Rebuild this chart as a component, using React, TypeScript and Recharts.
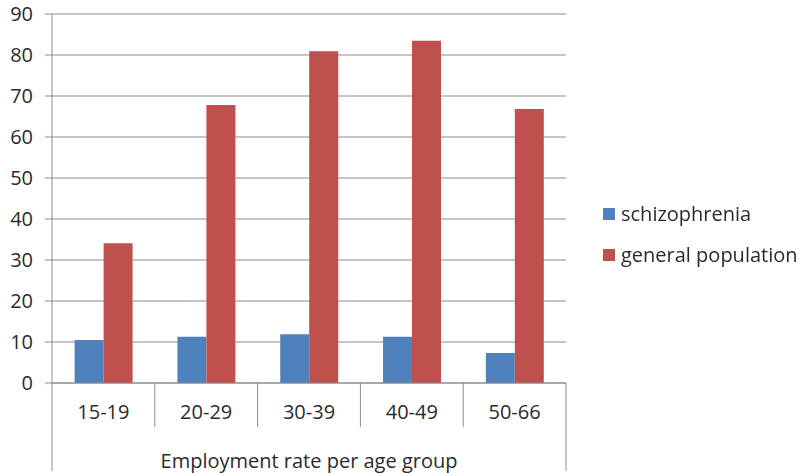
import { Bar, BarChart, CartesianGrid, Legend, XAxis, YAxis } from "recharts";

const ageGroups = ["15-19", "20-29", "30-39", "40-49", "50-66"];
const schizophrenia = [10.5, 11.3, 11.9, 11.3, 7.3];
const generalPopulation = [34.1, 67.8, 80.9, 83.5, 66.8];
const yTicks = [0, 10, 20, 30, 40, 50, 60, 70, 80, 90];

const data = ageGroups.map((g, i) => ({
  group: g,
  schizophrenia: schizophrenia[i],
  general: generalPopulation[i],
}));

const BLUE = "#4F81BD";
const RED = "#C0504D";
const GRID = "#8c8c8c";
const TEXT = "#2b2b2b";
const FONT = "'Open Sans', sans-serif";
const FS = 20;

const PLOT_L = 52;
const PLOT_R = 566;
const BAND = (PLOT_R - PLOT_L) / ageGroups.length;

function GroupTick(props: any) {
  const { x, y, payload, index } = props;
  const last = index === ageGroups.length - 1;
  return (
    <g>
      {index === 0 && <line x1={x - BAND / 2} y1={y} x2={x - BAND / 2} y2={y + 88} stroke={GRID} />}
      <line x1={x + BAND / 2} y1={y} x2={x + BAND / 2} y2={y + (last ? 88 : 44)} stroke={GRID} />
      <text x={x} y={y + 29} dy="0.35em" textAnchor="middle" fill={TEXT} fontSize={FS} fontFamily={FONT}>
        {payload.value}
      </text>
    </g>
  );
}

function LegendBox() {
  const items = [
    { name: "schizophrenia", color: BLUE },
    { name: "general population", color: RED },
  ];
  return (
    <div style={{ fontFamily: FONT, fontSize: FS, color: TEXT }}>
      {items.map((it) => (
        <div key={it.name} style={{ display: "flex", alignItems: "center", height: 41, whiteSpace: "nowrap" }}>
          <span style={{ width: 12, height: 12, background: it.color, marginRight: 6, display: "inline-block" }} />
          {it.name}
        </div>
      ))}
    </div>
  );
}

export default function App() {
  return (
    <div style={{ position: "fixed", left: 0, top: 0, background: "#fff" }}>
      <BarChart
        width={800}
        height={473}
        data={data}
        margin={{ top: 14, right: 800 - PLOT_R, bottom: 1, left: 0 }}
        barCategoryGap="22%"
        barGap={0}
      >
        <CartesianGrid vertical={false} stroke={GRID} />
        <XAxis
          dataKey="group"
          height={89}
          tickLine={false}
          tickSize={0}
          tickMargin={0}
          axisLine={{ stroke: GRID }}
          tick={<GroupTick />}
          interval={0}
          label={{
            value: "Employment rate per age group",
            position: "insideBottom",
            offset: 4,
            fill: TEXT,
            fontSize: FS,
            fontFamily: FONT,
          }}
        />
        <YAxis
          width={PLOT_L}
          domain={[0, 90]}
          ticks={yTicks}
          interval={0}
          tickSize={7}
          tickMargin={12}
          tickLine={{ stroke: GRID }}
          axisLine={{ stroke: GRID }}
          tick={{ fill: TEXT, fontSize: FS, fontFamily: FONT }}
        />
        <Legend
          layout="horizontal"
          align="center"
          verticalAlign="middle"
          content={<LegendBox />}
          wrapperStyle={{ left: 603, top: 193, width: 200 }}
        />
        <Bar dataKey="schizophrenia" name="schizophrenia" fill={BLUE} isAnimationActive={false} />
        <Bar dataKey="general" name="general population" fill={RED} isAnimationActive={false} />
      </BarChart>
    </div>
  );
}
